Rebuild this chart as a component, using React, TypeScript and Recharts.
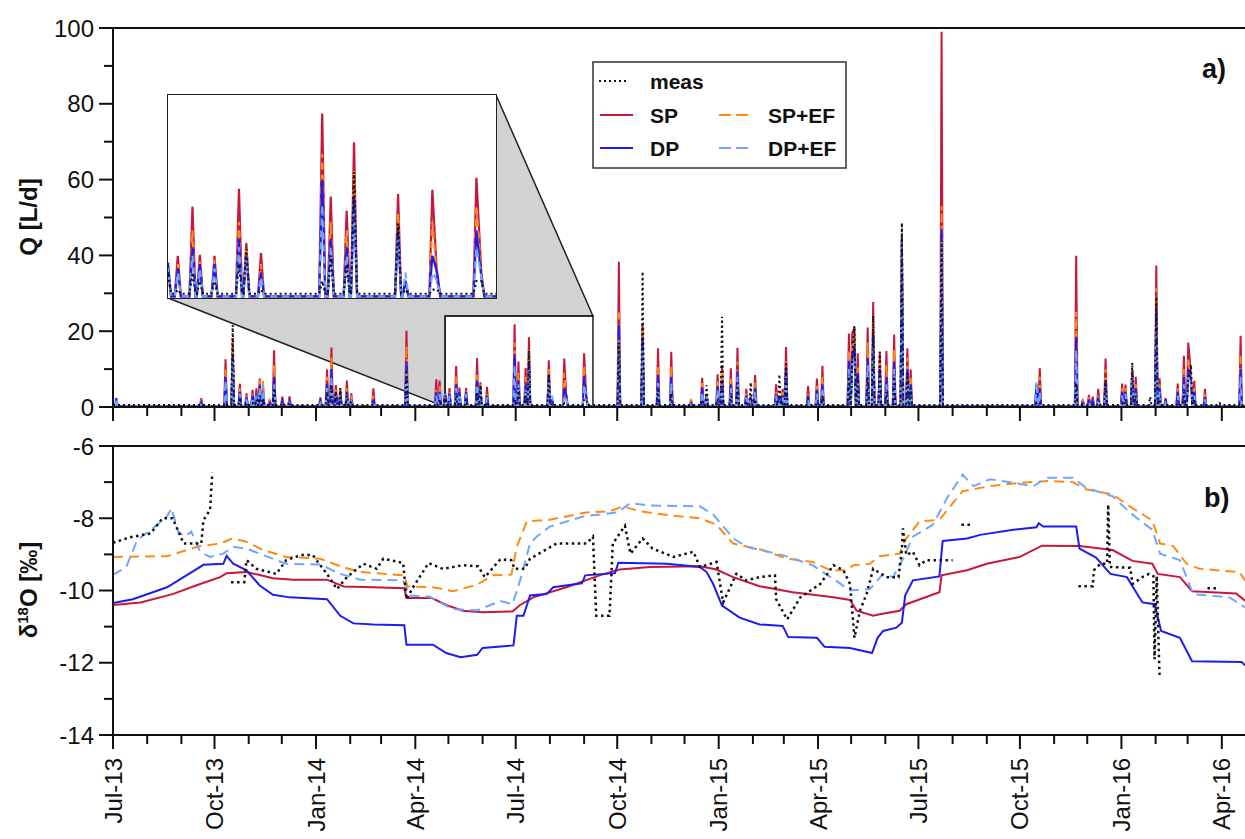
import React from "react";
import {
  LineChart,
  Line,
  XAxis,
  YAxis,
  ReferenceLine,
  ReferenceArea,
} from "recharts";

const FONT = '"Liberation Sans", Arial, Helvetica, sans-serif';
const AXIS = "#111";

const C_MEAS = "#111111";
const C_SP = "#c8163c";
const C_DP = "#1c1cf5";
const C_SPEF = "#ff8a12";
const C_DPEF = "#6fa6ff";

// x axis = days since 1 Jul 2013
const DAY_END = 1026;
const MONTH_COUNT = 34; // Jul-13 ... Apr-16
const MAJOR_LABELS = [
  "Jul-13", "Oct-13", "Jan-14", "Apr-14", "Jul-14", "Oct-14",
  "Jan-15", "Apr-15", "Jul-15", "Oct-15", "Jan-16", "Apr-16",
];
const T0 = Date.UTC(2013, 6, 1);
const MONTH_TICKS = Array.from({ length: MONTH_COUNT }, (_, i) =>
  Math.round((Date.UTC(2013, 6 + i, 1) - T0) / 86400000)
);

const Q_TICKS = [0, 10, 20, 30, 40, 50, 60, 70, 80, 90, 100];
const ISO_TICKS = [-14, -13, -12, -11, -10, -9, -8, -7, -6];

// zoom window shown in the inset (days, L/d)
const ZOOM_D = [301, 435];
const ZOOM_Q = [0, 24];

// discharge events: [day, meas, SP, SP+EF, DP, DP+EF]
const Q_EVENTS: number[][] = [
  [3, 0.5, 1.5, 1.5, 2.3, 2.3],
  [80, 0.5, 2.3, 1.5, 1.2, 1],
  [102, 1, 12.6, 10, 8, 7],
  [108.5, 21.6, 18.2, 17, 14, 12],
  [115, 2, 6.1, 5, 4, 3.5],
  [121, 1, 3.6, 3, 2.5, 2],
  [126.5, 1, 4.5, 3.5, 3, 2.5],
  [130, 2, 4.9, 4, 3.5, 3],
  [133, 3, 7.5, 7, 5.5, 5],
  [136, 2, 5, 7, 4, 6],
  [142, 0.5, 1.9, 1.5, 1, 1],
  [146, 5, 15, 11, 8, 6],
  [153.5, 1, 2.7, 2, 1.5, 1],
  [160, 1, 2.8, 2, 1.5, 1],
  [188, 0.5, 2.5, 2, 1.5, 1],
  [194, 4, 9.9, 8, 6, 5],
  [198, 6, 15.7, 13, 10, 8],
  [202, 4, 5.8, 5, 4, 3.5],
  [206, 5, 4.9, 4, 3.5, 3],
  [212, 3, 7, 5, 4, 3.5],
  [216, 1.5, 3.6, 3, 2, 1.5],
  [236, 0.5, 4.9, 3, 2, 1.5],
  [266, 9.8, 20.1, 16, 12, 10],
  [293, 1, 7.3, 5, 4, 3],
  [296, 2, 7, 5.5, 4, 3.5],
  [301, 3, 3.5, 3, 4.2, 3.5],
  [305, 1, 5, 4, 3.5, 3],
  [311, 3, 10.8, 8, 6, 5],
  [314, 2, 5.1, 4.5, 4, 3.5],
  [320, 2, 5, 4.5, 4, 3.5],
  [330, 4, 12.9, 9, 7, 6],
  [333, 5.8, 6.5, 6, 5, 4.5],
  [339, 1, 5.3, 4, 3, 2.5],
  [364, 2, 21.8, 17, 14, 11],
  [367.5, 5, 12, 9, 7, 6],
  [374, 4, 10.3, 8, 6, 5],
  [377, 14.9, 18.4, 15, 12, 10],
  [395, 8.8, 12.3, 10, 8, 7],
  [398, 1, 2, 2, 2, 3],
  [409, 1, 12.8, 9, 5, 3],
  [411, 1, 2, 2, 3, 2],
  [427, 2, 14.2, 11, 8, 6],
  [429, 2, 3, 3, 2.5, 2.5],
  [458.5, 17, 38.3, 25.6, 21.6, 17.7],
  [480, 35.7, 22, 20.3, 18.5, 15],
  [494, 4.5, 15.5, 10.6, 8.5, 6.3],
  [506, 3.6, 14.6, 10.6, 8, 6.3],
  [524, 0.5, 1.9, 1.5, 1, 1],
  [534, 2, 7.7, 6.3, 5, 4],
  [538, 5.8, 3, 3, 3, 3],
  [548, 2, 8.6, 7, 5.5, 4.5],
  [552, 23.8, 11, 9, 7, 6],
  [560, 3, 10.2, 8, 6, 5],
  [566, 6.3, 15.6, 12, 9.5, 8],
  [574, 1, 4.8, 4, 3, 2.5],
  [578, 6.5, 3, 3, 2.5, 2],
  [582, 2, 8.4, 6.5, 5, 4],
  [601, 1, 6, 4.5, 3.5, 3],
  [604, 8.6, 3, 3, 2.5, 2],
  [607, 1, 4.8, 4, 3, 2.5],
  [610, 12, 15.8, 12, 10, 8],
  [630, 0.5, 5.5, 4, 3, 2],
  [638, 1, 7.5, 5.5, 4.5, 3.5],
  [643, 3, 10.9, 8, 6, 5],
  [667, 8, 19.4, 15, 12, 10],
  [670, 12, 19.4, 16, 13, 11],
  [672, 21.4, 21, 19, 16, 13],
  [675, 8, 14.2, 11, 9, 7],
  [684, 8, 21, 17, 13, 11],
  [689, 24, 27.7, 23, 19, 16],
  [695, 14.6, 14.6, 12, 10, 8],
  [701, 4, 14.8, 11, 8, 6],
  [708, 8, 19.1, 15, 12, 10],
  [715, 48.6, 44, 46, 45, 44],
  [720, 9, 15.5, 13, 10, 8],
  [723, 5, 9.9, 8, 6, 5],
  [751, 44, 99, 53, 47, 44],
  [837, 1, 6, 5, 6, 6.7],
  [840, 1, 10.2, 8, 5, 4],
  [873, 6.3, 39.9, 25.1, 18.5, 15],
  [879, 0.5, 2, 1.5, 1, 1],
  [884.5, 0.5, 3.2, 2.5, 2, 1.5],
  [888, 0.5, 2.7, 2, 1.5, 1],
  [893, 1, 4.8, 3.5, 2.5, 2],
  [899.6, 7.1, 12.8, 10, 7, 5.5],
  [914.7, 1, 6.2, 5, 4, 3],
  [917.7, 2, 5.9, 5, 4, 3.5],
  [923.8, 11.7, 10, 10, 9, 8],
  [927, 3, 8, 6, 5, 4],
  [940, 2.7, 0.5, 0.5, 0.5, 0.5],
  [945.6, 29, 37.3, 31.3, 25.6, 22],
  [948.6, 2, 7.6, 6, 5, 4],
  [954, 0.5, 2.3, 2, 1.5, 1],
  [965, 1, 6.2, 5, 4, 3],
  [970.6, 4, 13.5, 10, 8, 6],
  [974.6, 8, 17, 13, 10, 8],
  [977, 11.2, 9, 8, 7, 6],
  [980, 2, 6.9, 5, 4, 3],
  [989.7, 0.5, 4.8, 3.5, 2.5, 2],
  [1003, 1, 0.3, 0.3, 0.3, 0.3],
  [1022, 1, 18.8, 14, 10, 8],
];

// flow between events
const Q_BASE = { meas: 0.5, sp: 0.2, spef: 0.2, dp: 0.2, dpef: 0.2 };

// δ18O [‰]: [day, value]
const SP_ISO = [
  [0, -10.4], [25, -10.33], [54, -10.1], [79, -9.82], [97, -9.63], [103, -9.52],
  [121, -9.49], [133, -9.57], [145, -9.66], [163, -9.7], [194, -9.7], [209, -9.89],
  [236, -9.91], [264, -9.94], [266, -10.21], [289, -10.21], [302, -10.4], [317, -10.56],
  [335, -10.6], [362, -10.58], [369, -10.4], [381, -10.19], [411, -9.91], [441, -9.58],
  [459, -9.42], [487, -9.35], [532, -9.33], [547, -9.42], [562, -9.63], [586, -9.88],
  [616, -10.05], [653, -10.19], [668, -10.26], [674, -10.56], [689, -10.7], [695, -10.66],
  [713, -10.56], [719, -10.38], [749, -10.05], [751, -9.58], [774, -9.44], [792, -9.26],
  [822, -9.07], [842, -8.76], [876, -8.77], [906, -8.88], [924, -9.18], [942, -9.26],
  [947, -9.54], [967, -9.63], [978, -10.02], [1018, -10.08], [1026, -10.28],
];
const DP_ISO = [
  [0, -10.35], [18, -10.24], [49, -9.91], [64, -9.63], [82, -9.29], [100, -9.26],
  [103, -9.04], [109, -9.26], [121, -9.44], [133, -9.86], [145, -10.12], [160, -10.19],
  [194, -10.24], [206, -10.7], [218, -10.91], [236, -10.94], [264, -10.96], [266, -11.5],
  [290, -11.5], [302, -11.73], [315, -11.85], [330, -11.78], [335, -11.59], [363, -11.52],
  [366, -10.7], [372, -10.7], [378, -10.14], [393, -10.1], [399, -9.91], [425, -9.8],
  [428, -9.58], [455, -9.52], [458, -9.23], [502, -9.26], [532, -9.35], [538, -9.49],
  [544, -9.82], [552, -10.42], [568, -10.75], [586, -10.94], [607, -10.98], [612, -11.29],
  [638, -11.31], [645, -11.56], [668, -11.59], [688, -11.73], [693, -11.31], [698, -11.12],
  [710, -11.03], [715, -10.89], [718, -10.14], [725, -9.72], [749, -9.61], [752, -8.63],
  [774, -8.56], [786, -8.46], [816, -8.32], [837, -8.25], [839, -8.14], [843, -8.23],
  [873, -8.23], [876, -8.84], [891, -9.09], [904, -9.54], [919, -9.63], [933, -10.33],
  [944, -10.38], [950, -11.12], [967, -11.31], [978, -11.96], [1023, -11.98], [1026, -12.07],
];
const SPEF_ISO = [
  [0, -9.07], [49, -9.05], [67, -8.88], [79, -8.77], [97, -8.7], [108, -8.56],
  [121, -8.65], [136, -8.88], [157, -9.07], [188, -9.12], [206, -9.33], [224, -9.49],
  [264, -9.58], [267, -9.89], [290, -9.91], [308, -10.02], [330, -9.84], [344, -9.58],
  [361, -9.56], [366, -8.79], [375, -8.09], [396, -8.04], [429, -7.84], [450, -7.81],
  [462, -7.67], [478, -7.81], [502, -7.91], [532, -8.0], [547, -8.18], [562, -8.7],
  [589, -8.88], [611, -9.12], [634, -9.21], [650, -9.44], [665, -9.44], [671, -9.3],
  [686, -9.26], [695, -9.05], [713, -8.98], [718, -8.6], [731, -8.09], [749, -8.04],
  [770, -7.25], [795, -7.11], [822, -7.02], [847, -6.97], [870, -7.0], [882, -7.2],
  [906, -7.34], [924, -7.72], [942, -8.06], [949, -8.7], [961, -8.77], [973, -9.26],
  [985, -9.4], [1021, -9.49], [1026, -9.72],
];
const DPEF_ISO = [
  [0, -9.57], [12, -9.35], [22, -8.6], [36, -8.28], [49, -7.95], [53, -7.72],
  [59, -8.37], [65, -8.51], [71, -8.37], [79, -8.93], [88, -9.07], [100, -8.98],
  [109, -8.79], [121, -8.84], [136, -9.02], [157, -9.26], [188, -9.28], [206, -9.54],
  [224, -9.7], [263, -9.72], [269, -10.14], [287, -10.17], [308, -10.52], [330, -10.55],
  [351, -10.29], [362, -10.38], [369, -9.72], [378, -8.7], [384, -8.51], [396, -8.23],
  [426, -7.95], [457, -7.84], [469, -7.58], [487, -7.65], [532, -7.67], [544, -7.9],
  [562, -8.55], [574, -8.79], [607, -9.02], [634, -9.3], [653, -9.68], [668, -10.0],
  [686, -9.96], [698, -9.54], [707, -9.63], [716, -9.12], [725, -8.51], [743, -8.18],
  [756, -7.44], [770, -6.79], [780, -7.11], [795, -6.92], [816, -7.02], [834, -7.11],
  [847, -6.88], [870, -6.88], [882, -7.16], [906, -7.39], [924, -7.9], [942, -8.32],
  [949, -8.98], [967, -9.16], [979, -10.1], [1012, -10.19], [1026, -10.47],
];
// null = no sample (gap in the dotted line)
const MEAS_ISO: (number | null)[][] = [
  [0, -8.68], [15, -8.53], [34, -8.42], [45, -8.0], [54, -8.0], [64, -8.7], [80, -8.7],
  [82, -8.05], [88, -7.77], [90, -6.74], [98, null],
  [107, -9.77], [119, -9.77], [121, -9.16], [130, -9.4], [148, -9.54], [157, -9.16],
  [170, -9.02], [181, -9.02], [194, -9.54], [203, -9.96], [212, -9.63], [227, -9.26],
  [239, -9.4], [245, -9.12], [263, -9.24], [265, -9.91], [266, -10.24], [272, -9.91],
  [286, -9.24], [299, -9.4], [317, -9.3], [331, -9.33], [337, -9.63], [351, -9.14],
  [361, -9.16], [364, -9.4], [373, -9.4], [378, -9.12], [402, -8.7], [429, -8.7],
  [435, -8.51], [438, -10.7], [450, -10.7], [453, -8.7], [464, -8.21], [469, -8.98],
  [480, -8.56], [489, -8.84], [508, -9.07], [526, -8.93], [532, -9.35], [547, -9.21],
  [553, -10.33], [565, -9.54], [574, -9.72], [586, -9.63], [600, -9.58], [601, -10.24],
  [611, -10.8], [623, -10.19], [641, -9.82], [653, -9.3], [662, -9.44], [668, -9.82],
  [672, -11.31], [677, -10.56], [683, -10.1], [689, -9.4], [701, -9.63], [712, -9.63],
  [715, -8.88], [716, -8.28], [719, -9.02], [725, -8.93], [731, -9.3], [737, -9.16],
  [761, -9.16], [765, null],
  [769, -8.18], [778, -8.18], [800, null],
  [875, -9.88], [888, -9.88], [889, -9.44], [895, -9.26], [901, -9.26], [902, -7.62],
  [903.5, -9.35], [922, -9.37], [924, -9.82], [933, -9.63], [939, -9.54], [943, -9.6],
  [944, -11.9], [946, -9.6], [948.5, -12.34], [970, null],
  [992, -9.94], [1003, -9.94],
];

function buildQRows() {
  const ev = Q_EVENTS.map(([d, meas, sp, spef, dp, dpef]) => ({ d, meas, sp, spef, dp, dpef }));
  const rows: any[] = [{ d: 0, ...Q_BASE }];
  ev.forEach((e, i) => {
    const before = i > 0 ? e.d - ev[i - 1].d : 99;
    const after = i < ev.length - 1 ? ev[i + 1].d - e.d : 99;
    if (before > 2.6) rows.push({ ...Q_BASE, d: e.d - 1.25 });
    rows.push(e);
    if (after > 2.6) rows.push({ ...Q_BASE, d: e.d + 1.25 });
  });
  rows.push({ d: DAY_END, ...Q_BASE });
  return rows;
}

const qRows = buildQRows();
const toRows = (pts: (number | null)[][]) => pts.map(([d, v]) => ({ d, v }));
const spRows = toRows(SP_ISO);
const dpRows = toRows(DP_ISO);
const spefRows = toRows(SPEF_ISO);
const dpefRows = toRows(DPEF_ISO);
const measRows = toRows(MEAS_ISO);

// layout
const W = 1245;
const PLOT_L = 113;
const PLOT_R = 1245;
const Q_TOP = 28;
const Q_BOT = 407;
const INSET = { left: 168, top: 95, width: 328, height: 203 };

const xPix = (d: number) => PLOT_L + (d / DAY_END) * (PLOT_R - PLOT_L);
const yPixQ = (v: number) => Q_BOT - (v / 100) * (Q_BOT - Q_TOP);

const XTick = (props: any) => {
  const { x, y, payload, showLabel } = props;
  const idx = MONTH_TICKS.indexOf(payload.value);
  const major = idx % 3 === 0;
  return (
    <g>
      <line x1={x} x2={x} y1={y} y2={y + (major ? 14 : 9)} stroke={AXIS} strokeWidth={2} />
      {showLabel && major && (
        <text
          transform={`translate(${x + 8.5},${y + 23}) rotate(-90)`}
          textAnchor="end"
          fontSize={24}
          fontFamily={FONT}
          fill="#111"
        >
          {MAJOR_LABELS[idx / 3]}
        </text>
      )}
    </g>
  );
};

const YTick = (props: any) => {
  const { x, y, payload, step } = props;
  const v = payload.value;
  const major = Math.abs(v) % step === 0;
  return (
    <g>
      <line x1={x} x2={x - (major ? 14 : 9)} y1={y} y2={y} stroke={AXIS} strokeWidth={2} />
      {major && (
        <text x={x - 19} y={y} dy="0.36em" textAnchor="end" fontSize={24} fontFamily={FONT} fill="#111">
          {v}
        </text>
      )}
    </g>
  );
};

const qLines = (w: number) => [
  <Line key="sp" dataKey="sp" stroke={C_SP} strokeWidth={w} dot={false} isAnimationActive={false} />,
  <Line key="spef" dataKey="spef" stroke={C_SPEF} strokeWidth={w} strokeDasharray="7 5" dot={false} isAnimationActive={false} />,
  <Line key="dp" dataKey="dp" stroke={C_DP} strokeWidth={w} dot={false} isAnimationActive={false} />,
  <Line key="dpef" dataKey="dpef" stroke={C_DPEF} strokeWidth={w} strokeDasharray="7 5" dot={false} isAnimationActive={false} />,
  <Line key="meas" dataKey="meas" stroke={C_MEAS} strokeWidth={w} strokeDasharray="2 3" dot={false} isAnimationActive={false} />,
];

const axisLine = { stroke: AXIS, strokeWidth: 2 };

export default function App() {
  const bx1 = xPix(ZOOM_D[0]);
  const bx2 = xPix(ZOOM_D[1]);
  const by1 = yPixQ(ZOOM_Q[1]);
  const by2 = yPixQ(ZOOM_Q[0]);
  const iL = INSET.left;
  const iR = INSET.left + INSET.width;
  const iT = INSET.top;
  const iB = INSET.top + INSET.height;
  const poly = `${iL},${iB} ${iR},${iB} ${iR},${iT} ${bx2},${by1} ${bx1},${by1} ${bx1},${by2}`;

  return (
    <div style={{ position: "absolute", left: 0, top: 0, width: W, height: 839, background: "#fff", fontFamily: FONT }}>
      <svg width={W} height={839} style={{ position: "absolute", left: 0, top: 0 }}>
        <polygon points={poly} fill="#d2d2d2" stroke="#222" strokeWidth={1.5} />
      </svg>

      <div style={{ position: "absolute", left: 0, top: 0 }}>
        <LineChart width={W} height={430} data={qRows} margin={{ top: Q_TOP, right: 0, left: 53, bottom: 8 }}>
          <XAxis
            dataKey="d"
            type="number"
            domain={[0, DAY_END]}
            ticks={MONTH_TICKS}
            interval={0}
            tickSize={0}
            tickMargin={0}
            tickLine={false}
            tick={(p: any) => <XTick {...p} showLabel={false} />}
            axisLine={axisLine}
            height={15}
            allowDataOverflow
          />
          <YAxis
            type="number"
            domain={[0, 100]}
            ticks={Q_TICKS}
            interval={0}
            tickSize={0}
            tickMargin={0}
            tickLine={false}
            tick={(p: any) => <YTick {...p} step={20} />}
            axisLine={axisLine}
            width={60}
          />
          <ReferenceLine y={100} stroke={AXIS} strokeWidth={2} />
          <ReferenceArea
            x1={ZOOM_D[0]}
            x2={ZOOM_D[1]}
            y1={ZOOM_Q[0]}
            y2={ZOOM_Q[1]}
            fill="none"
            stroke="#222"
            strokeWidth={1.5}
          />
          {qLines(2)}
        </LineChart>
      </div>

      <div style={{ position: "absolute", left: 0, top: 420 }}>
        <LineChart width={W} height={419} margin={{ top: 26, right: 0, left: 53, bottom: 4 }}>
          <XAxis
            dataKey="d"
            type="number"
            domain={[0, DAY_END]}
            ticks={MONTH_TICKS}
            interval={0}
            tickSize={0}
            tickMargin={0}
            tickLine={false}
            tick={(p: any) => <XTick {...p} showLabel />}
            axisLine={axisLine}
            height={100}
            allowDataOverflow
          />
          <YAxis
            type="number"
            domain={[-14, -6]}
            ticks={ISO_TICKS}
            interval={0}
            tickSize={0}
            tickMargin={0}
            tickLine={false}
            tick={(p: any) => <YTick {...p} step={2} />}
            axisLine={axisLine}
            width={60}
          />
          <ReferenceLine y={-6} stroke={AXIS} strokeWidth={2} />
          <Line data={spRows} dataKey="v" stroke={C_SP} strokeWidth={2} dot={false} isAnimationActive={false} />
          <Line data={dpRows} dataKey="v" stroke={C_DP} strokeWidth={2} dot={false} isAnimationActive={false} />
          <Line data={spefRows} dataKey="v" stroke={C_SPEF} strokeWidth={2} strokeDasharray="10 6" dot={false} isAnimationActive={false} />
          <Line data={dpefRows} dataKey="v" stroke={C_DPEF} strokeWidth={2} strokeDasharray="10 6" dot={false} isAnimationActive={false} />
          <Line data={measRows} dataKey="v" stroke={C_MEAS} strokeWidth={2.5} strokeDasharray="2.5 3.5" dot={false} isAnimationActive={false} />
        </LineChart>
      </div>

      <div
        style={{
          position: "absolute",
          left: INSET.left,
          top: INSET.top,
          width: INSET.width,
          height: INSET.height,
          background: "#fff",
          outline: "1.5px solid #222",
        }}
      >
        <LineChart width={INSET.width} height={INSET.height} data={qRows} margin={{ top: 0, right: 0, left: 0, bottom: 0 }}>
          <XAxis dataKey="d" type="number" domain={ZOOM_D} hide allowDataOverflow />
          <YAxis type="number" domain={ZOOM_Q} hide allowDataOverflow />
          {qLines(2.2)}
        </LineChart>
      </div>

      <svg width={W} height={839} style={{ position: "absolute", left: 0, top: 0, pointerEvents: "none" }}>
        <text transform="translate(37,217) rotate(-90)" textAnchor="middle" fontSize={24} fontWeight="bold" fontFamily={FONT} fill="#111">
          Q [L/d]
        </text>
        <text transform="translate(37,590) rotate(-90)" textAnchor="middle" fontSize={24} fontWeight="bold" fontFamily={FONT} fill="#111">
          δ<tspan dy={-9} fontSize={15}>18</tspan>
          <tspan dy={9}>O [‰]</tspan>
        </text>

        <text x={1202} y={78} fontSize={27} fontWeight="bold" fontFamily={FONT} fill="#111">a)</text>
        <text x={1204} y={507} fontSize={27} fontWeight="bold" fontFamily={FONT} fill="#111">b)</text>

        <g fontFamily={FONT} fontWeight="bold" fontSize={21} fill="#111">
          <rect x={593} y={62} width={253} height={106} fill="#fff" stroke="#333" strokeWidth={1.5} />
          <line x1={599} x2={628} y1={81} y2={81} stroke={C_MEAS} strokeWidth={2} strokeDasharray="2 3" />
          <text x={650} y={89}>meas</text>
          <line x1={600} x2={633} y1={115} y2={115} stroke={C_SP} strokeWidth={2} />
          <text x={650} y={123}>SP</text>
          <line x1={719} x2={748} y1={115} y2={115} stroke={C_SPEF} strokeWidth={2} strokeDasharray="12 5" />
          <text x={768} y={123}>SP+EF</text>
          <line x1={600} x2={633} y1={148} y2={148} stroke={C_DP} strokeWidth={2} />
          <text x={650} y={156}>DP</text>
          <line x1={719} x2={748} y1={148} y2={148} stroke={C_DPEF} strokeWidth={2} strokeDasharray="12 5" />
          <text x={768} y={156}>DP+EF</text>
        </g>
      </svg>
    </div>
  );
}
